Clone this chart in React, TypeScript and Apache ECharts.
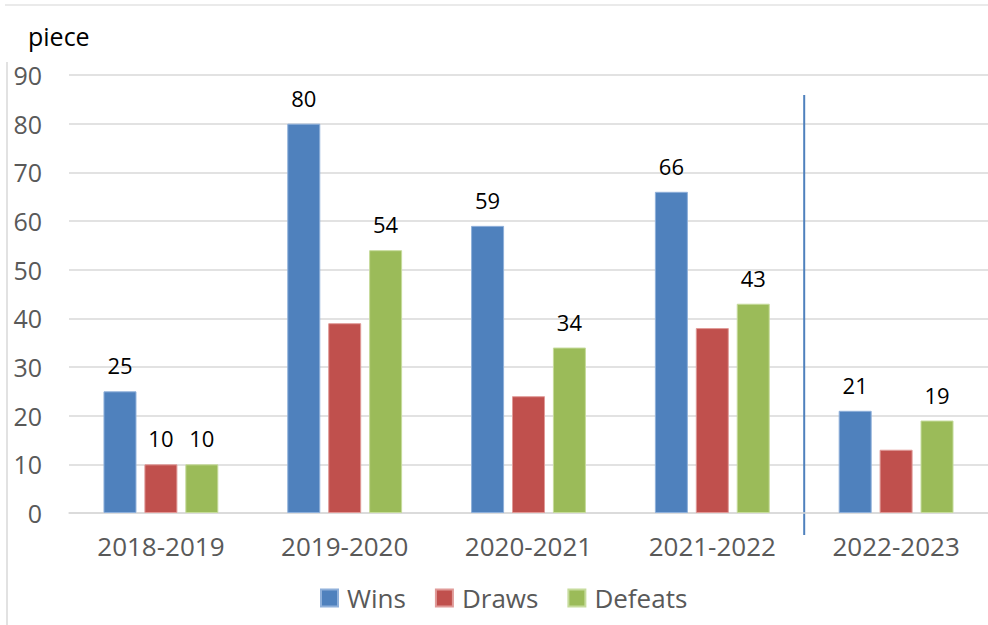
import React, { useEffect, useRef } from "react";
import * as echarts from "echarts";

const categories = ["2018-2019", "2019-2020", "2020-2021", "2021-2022", "2022-2023"];
const wins = [25, 80, 59, 66, 21];
const draws = [10, 39, 24, 38, 13];
const defeats = [10, 54, 34, 43, 19];
const drawsLabelShown = [true, false, false, false, false];
const yTicks = { min: 0, max: 90, interval: 10 };
const yName = "piece";

const FONT = "'Open Sans', 'Noto Sans', sans-serif";

export default function App() {
  const ref = useRef<HTMLDivElement>(null);
  useEffect(() => {
    if (!ref.current) return;
    const chart = echarts.init(ref.current, null, { renderer: "svg" });
    const labelStyle = {
      show: true,
      position: "top" as const,
      distance: 15,
      color: "#000000",
      fontSize: 22,
      fontFamily: FONT,
    };
    const barBase = {
      type: "bar" as const,
      barWidth: 33,
      barGap: "24%",
    };
    chart.setOption({
      animation: false,
      backgroundColor: "#ffffff",
      grid: { left: 69, right: 0, top: 75, bottom: 112, containLabel: false },
      legend: {
        bottom: 9,
        left: 315,
        itemWidth: 17,
        itemHeight: 17,
        itemGap: 29,
        icon: "rect",
        textStyle: { fontSize: 26, color: "#595959", fontFamily: FONT, padding: [0, 0, 0, 4] },
        data: ["Wins", "Draws", "Defeats"],
      },
      xAxis: {
        type: "category",
        data: categories,
        axisLine: { show: true, lineStyle: { color: "#D9D9D9", width: 1.5 } },
        axisTick: { show: false },
        axisLabel: { fontSize: 26, color: "#595959", fontFamily: FONT, margin: 20 },
      },
      yAxis: {
        type: "value",
        min: yTicks.min,
        max: yTicks.max,
        interval: yTicks.interval,
        axisLine: { show: false },
        axisTick: { show: false },
        splitLine: { lineStyle: { color: "#D9D9D9", width: 1.5 } },
        axisLabel: { fontSize: 25, color: "#595959", fontFamily: FONT, margin: 27 },
      },
      series: [
        {
          ...barBase,
          name: "Wins",
          data: wins,
          itemStyle: { color: "#4F81BD", borderColor: "#8FB0DA", borderWidth: 1 },
          label: labelStyle,
        },
        {
          ...barBase,
          name: "Draws",
          data: draws.map((v, i) => ({ value: v, label: { show: drawsLabelShown[i] } })),
          itemStyle: { color: "#C0504D", borderColor: "#E09A98", borderWidth: 1 },
          label: labelStyle,
        },
        {
          ...barBase,
          name: "Defeats",
          data: defeats,
          itemStyle: { color: "#9BBB59", borderColor: "#C6DB9C", borderWidth: 1 },
          label: labelStyle,
        },
      ],
    });

    const c3 = chart.convertToPixel({ xAxisIndex: 0 }, 3) as number;
    const c4 = chart.convertToPixel({ xAxisIndex: 0 }, 4) as number;
    const sepX = (c3 + c4) / 2;
    const yTop = chart.convertToPixel({ yAxisIndex: 0 }, yTicks.max) as number;
    const yZero = chart.convertToPixel({ yAxisIndex: 0 }, 0) as number;

    chart.setOption({
      graphic: [
        {
          type: "line",
          shape: { x1: 5, y1: 5, x2: 988, y2: 5 },
          style: { stroke: "#E3E3E3", lineWidth: 1.5 },
          silent: true,
        },
        {
          type: "line",
          shape: { x1: 7, y1: 62, x2: 7, y2: 625 },
          style: { stroke: "#D9D9D9", lineWidth: 1.5 },
          silent: true,
        },
        {
          type: "line",
          shape: { x1: sepX, y1: yTop + 20, x2: sepX, y2: yZero + 22 },
          style: { stroke: "#4F81BD", lineWidth: 2 },
          silent: true,
        },
        {
          type: "text",
          left: 28,
          top: 23,
          style: { text: yName, fontSize: 25, fill: "#000000", fontFamily: FONT },
          silent: true,
        },
      ],
    });

    return () => chart.dispose();
  }, []);
  return <div ref={ref} style={{ width: 988, height: 625, position: "absolute", left: 0, top: 0 }} />;
}
